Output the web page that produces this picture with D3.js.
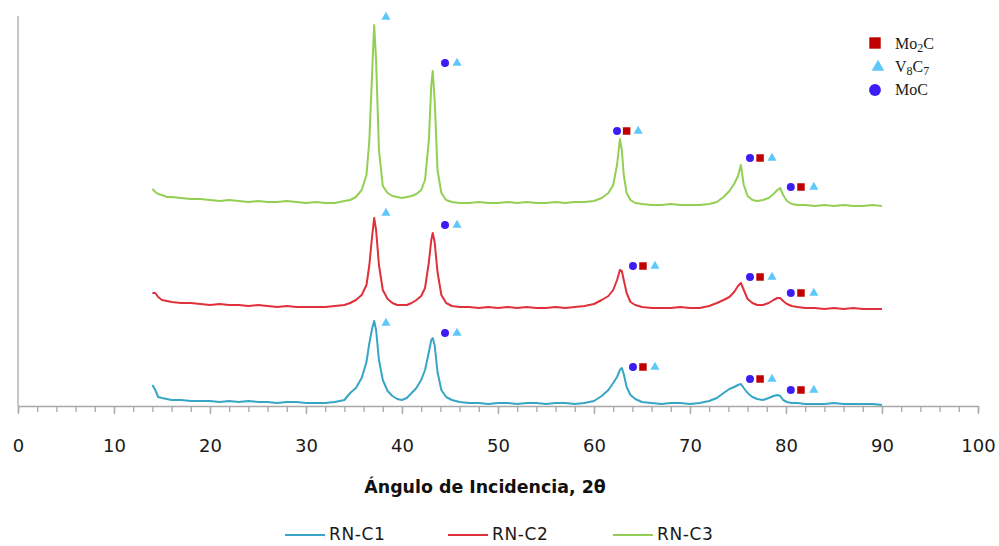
<!DOCTYPE html>
<html lang="es">
<head>
  <meta charset="UTF-8">
  <script src="https://d3js.org/d3.v7.min.js"></script>
  <title>DRX RN-C1 / RN-C2 / RN-C3</title>
  <style>
    body { margin: 0; background: #fff; }
    svg { display: block; }
  </style>
</head>
<body>
  <svg id="chart" width="999" height="546"></svg>
  <script>
    // angulos 2θ (comun para las tres curvas)
    const angles = [14,14.3,14.6,15,15.5,16,
      17,18,19,20,21,22,23,24,25,26,27,28,29,30,31,32,33,34,
      34.6,35.2,35.8,36.3,36.6,36.9,37.1,37.3,37.6,38,
      38.5,39,39.5,40,40.5,41,41.5,42,42.4,42.8,
      43.05,43.2,43.4,43.7,44.1,44.6,45.2,46,
      47,48,49,50,51,52,53,54,55,56,57,58,59,60,
      60.8,61.5,62,62.4,62.7,62.9,63.1,63.4,63.8,64.3,
      65,66,67,68,69,70,71,72,
      72.8,73.5,74.1,74.6,75,75.3,75.6,76,76.5,77,
      77.6,78.2,78.7,79.1,79.4,79.7,80.1,80.6,81.2,
      82,83,84,85,86,87,88,89,90];

    // intensidades (u.a., ya desplazadas)
    const rnC1 = [21,16,9,8,7,6,
      6,5,5,5,4,5,4,5,4,4,3,4,4,3,3,3,4,6,
      13,18,28,44,63,78,85,76,46,26,
      15,10,7,6,8,13,18,26,36,54,
      66,68,61,34,16,9,6,4,
      3,3,2,3,3,2,3,3,2,3,3,2,3,5,
      10,16,23,29,36,38,32,19,11,7,
      4,3,2,3,3,2,3,5,
      8,13,17,19,21,22,18,13,9,7,
      6,8,10,11,10,6,4,3,3,
      2,2,2,3,2,2,2,2,1];

    const rnC2 = [113,113,109,106,105,104,
      103,103,102,101,102,101,101,100,101,100,99,100,99,99,99,99,100,101,
      103,106,111,121,141,171,188,176,141,116,
      107,103,101,101,101,103,106,110,118,144,
      166,173,164,134,111,103,100,99,
      99,98,99,98,99,98,99,98,98,99,98,99,100,102,
      106,110,116,126,136,135,126,113,104,101,
      99,98,98,98,99,98,98,100,
      103,106,109,114,120,123,116,107,103,101,
      101,103,106,108,108,105,102,100,99,
      98,98,97,98,97,98,97,97,97];

    const rnC3 = [217,214,212,211,209,209,
      208,207,207,206,205,206,205,204,205,204,204,205,204,203,204,203,203,205,
      206,209,216,231,266,336,381,346,256,220,
      213,210,209,208,209,210,212,216,226,266,
      321,335,306,236,213,206,204,203,
      203,204,203,203,204,203,204,203,203,204,203,204,204,205,
      208,213,221,241,267,256,231,213,206,203,
      202,201,201,202,201,201,201,202,
      204,209,215,222,230,241,221,210,206,205,
      206,208,212,216,218,211,205,202,201,
      201,200,201,200,201,200,200,201,200];

    // marcadores de fases [2θ, intensidad]
    const mo2cPts = [[63.4,275],[77.3,248],[81.56,219],
      [65.1,140],[77.3,129],[81.56,113],
      [65.1,39],[77.3,27],[81.56,16]];
    const v8c7Pts = [[38.33,389],[45.73,343],[64.6,275],[78.54,248],[82.9,219],
      [38.33,193],[45.73,181],[66.35,140],[78.54,129],[82.9,113],
      [38.33,83],[45.73,73],[66.35,39],[78.54,27],[82.9,16]];
    const mocPts = [[44.48,343],[62.4,275],[76.25,248],[80.5,219],
      [44.48,181],[64.06,140],[76.25,129],[80.5,113],
      [44.48,73],[64.06,39],[76.25,27],[80.5,16]];

    const seriesNames = ["RN-C1", "RN-C2", "RN-C3"];
    const seriesColors = ["#37a6c6", "#e0303c", "#92cf52"];
    const xTicks = [0,10,20,30,40,50,60,70,80,90,100];

    const svg = d3.select("#chart");
    const x = d3.scaleLinear().domain([0, 100]).range([18, 978]);
    const y = d3.scaleLinear().domain([0, 390]).range([406, 16]);

    // eje vertical izquierdo (sin marcas)
    svg.append("line")
      .attr("x1", x(0)).attr("x2", x(0))
      .attr("y1", y(390)).attr("y2", y(0))
      .attr("stroke", "#a9a9a9").attr("stroke-width", 1.3);

    // eje x: marcas menores y mayores
    const minor = d3.axisBottom(x).tickValues(d3.range(0, 101, 2)).tickSize(6).tickFormat("");
    svg.append("g").attr("transform", `translate(0,${y(0)})`).call(minor)
      .call(g => g.selectAll("line,path").attr("stroke", "#a9a9a9").attr("stroke-width", 1.3));

    const major = d3.axisBottom(x).tickValues(xTicks).tickSize(8).tickFormat(d3.format("d"));
    const gx = svg.append("g").attr("transform", `translate(0,${y(0)})`).call(major);
    gx.select(".domain").remove();
    gx.selectAll("line").attr("stroke", "#a9a9a9").attr("stroke-width", 1.3);
    gx.selectAll("text")
      .attr("y", 46).attr("dy", 0)
      .attr("fill", "#1a1a1a")
      .style("font-family", "'DejaVu Sans', sans-serif")
      .style("font-size", "18px");

    svg.append("text")
      .attr("x", 485).attr("y", 493)
      .attr("text-anchor", "middle")
      .style("font-family", "'DejaVu Sans', sans-serif")
      .style("font-size", "17.4px").style("font-weight", "bold")
      .attr("fill", "#111")
      .text("Ángulo de Incidencia, 2θ");

    // curvas
    const line = d3.line().x((d, i) => x(angles[i])).y(d => y(d));
    [rnC1, rnC2, rnC3].forEach((vals, k) => {
      svg.append("path")
        .datum(vals)
        .attr("fill", "none")
        .attr("stroke", seriesColors[k])
        .attr("stroke-width", 2)
        .attr("stroke-linejoin", "round")
        .attr("d", line);
    });

    // marcadores de fases
    const sq = d3.symbol().type(d3.symbolSquare).size(56);
    const tri = d3.symbol().type(d3.symbolTriangle).size(36);
    const circ = d3.symbol().type(d3.symbolCircle).size(50);
    const drawPts = (pts, sym, color) => {
      svg.append("g").selectAll("path").data(pts).join("path")
        .attr("transform", d => `translate(${x(d[0])},${y(d[1])})`)
        .attr("d", sym)
        .attr("fill", color);
    };
    drawPts(mocPts, circ, "#3d1df5");
    drawPts(mo2cPts, sq, "#c00000");
    drawPts(v8c7Pts, tri, "#5ec8fb");

    // leyenda de fases (arriba derecha)
    const phaseLeg = svg.append("g")
      .style("font-family", "'Liberation Serif', 'Times New Roman', serif")
      .style("font-size", "16px").attr("fill", "#1a1a1a");
    phaseLeg.append("path").attr("transform", "translate(875,43)")
      .attr("d", d3.symbol().type(d3.symbolSquare).size(130)).attr("fill", "#c00000");
    phaseLeg.append("path").attr("transform", "translate(878,67)")
      .attr("d", d3.symbol().type(d3.symbolTriangle).size(70)).attr("fill", "#5ec8fb");
    phaseLeg.append("path").attr("transform", "translate(875,90)")
      .attr("d", d3.symbol().type(d3.symbolCircle).size(110)).attr("fill", "#3d1df5");
    const subText = (yy, parts) => {
      const t = phaseLeg.append("text").attr("x", 895).attr("y", yy);
      parts.forEach(p => {
        t.append("tspan")
          .attr("baseline-shift", p[1] ? "-25%" : null)
          .style("font-size", p[1] ? "12px" : null)
          .text(p[0]);
      });
    };
    subText(49, [["Mo", 0], ["2", 1], ["C", 0]]);
    subText(72, [["V", 0], ["8", 1], ["C", 0], ["7", 1]]);
    subText(95, [["MoC", 0]]);

    // leyenda de series (abajo)
    const legX = [285, 448, 613];
    seriesNames.forEach((name, k) => {
      const g = svg.append("g");
      g.append("line")
        .attr("x1", legX[k]).attr("x2", legX[k] + 40)
        .attr("y1", 535).attr("y2", 535)
        .attr("stroke", seriesColors[k]).attr("stroke-width", 2);
      g.append("text")
        .attr("x", legX[k] + 44).attr("y", 540)
        .style("font-family", "'DejaVu Sans', sans-serif")
        .style("font-size", "17px")
        .style("letter-spacing", "0.6px")
        .attr("fill", "#1a1a1a")
        .text(name);
    });
  </script>
</body>
</html>
